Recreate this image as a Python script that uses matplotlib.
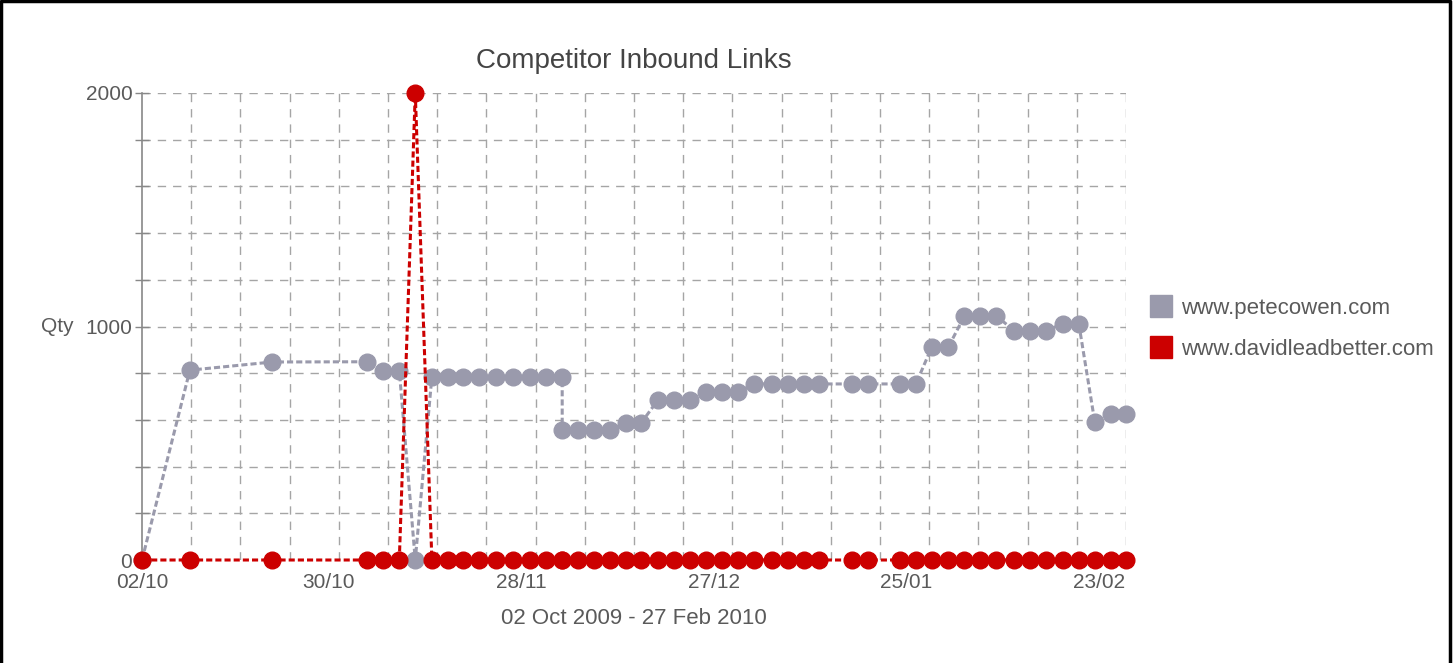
import numpy as np
import matplotlib
matplotlib.use("Agg")
import matplotlib.pyplot as plt
from matplotlib.lines import Line2D

plt.rcParams["font.family"] = ["Liberation Sans", "DejaVu Sans"]

# days since 02 Oct 2009
days = [0.0, 7.2, 19.6, 33.8, 36.2, 38.7, 41.1,
        43.6, 46.0, 48.3, 50.7, 53.2, 55.8, 58.4, 60.8, 63.2,
        63.2, 65.6, 68.0, 70.4, 72.8, 75.1,
        77.6, 80.0, 82.4, 84.8, 87.3, 89.6,
        92.1, 94.8, 97.2, 99.6, 101.9, 106.8, 109.2, 114.0, 116.4,
        118.8, 121.3, 123.7, 126.1, 128.5, 131.2, 133.6, 136.0,
        138.5, 140.9, 143.3, 145.7, 148.0]

petecowen = [0, 813, 848, 849, 811, 811, 0,
             785, 785, 785, 785, 785, 785, 785, 785, 785,
             557, 557, 557, 557, 588, 588,
             685, 685, 685, 720, 720, 720,
             754, 754, 754, 754, 754, 754, 754, 754, 754,
             913, 913, 1045, 1045, 1045, 982, 982, 982,
             1012, 1012, 592, 624, 624]

davidleadbetter = [0, 0, 0, 0, 0, 0, 2000,
                   0, 0, 0, 0, 0, 0, 0, 0, 0,
                   0, 0, 0, 0, 0, 0,
                   0, 0, 0, 0, 0, 0,
                   0, 0, 0, 0, 0, 0, 0, 0, 0,
                   0, 0, 0, 0, 0, 0, 0, 0,
                   0, 0, 0, 0, 0]

tick_days = [0, 28, 57, 86, 115, 144]
tick_labels = ["02/10", "30/10", "28/11", "27/12", "25/01", "23/02"]
series_names = ["www.petecowen.com", "www.davidleadbetter.com"]

GRAY = "#9a9aac"
RED = "#cc0000"
TEXT = "#5a5a5a"

fig = plt.figure(figsize=(14.55, 6.63), dpi=100)
ax = fig.add_axes([142 / 1455, 1 - 560 / 663, (1126 - 142) / 1455, (560 - 93) / 663])

# grid (dashed), vertical lines every 1/20 of the range
for gx in np.linspace(0, 148, 21)[1:]:
    ax.axvline(gx, color="#a5a5a5", lw=1.0, ls=(0, (6, 5)), zorder=0)
for gy in np.arange(200, 2001, 200):
    ax.axhline(gy, color="#a5a5a5", lw=1.0, ls=(0, (6, 5)), zorder=0)

ax.plot(days, petecowen, color=GRAY, lw=2.2, ls=(0, (2, 1)), marker="o",
        ms=12, mec=GRAY, mfc=GRAY, clip_on=False, zorder=3)
ax.plot(days, davidleadbetter, color=RED, lw=2.2, ls=(0, (2, 1)), marker="o",
        ms=12, mec=RED, mfc=RED, clip_on=False, zorder=4)

ax.set_xlim(0, 148)
ax.set_ylim(0, 2000)

for s in ["top", "right", "bottom"]:
    ax.spines[s].set_visible(False)
ax.spines["left"].set_color("#888888")
ax.spines["left"].set_linewidth(1.2)

ax.set_yticks([0, 1000, 2000])
ax.set_yticks(np.arange(200, 2000, 200), minor=True)
ax.tick_params(axis="y", which="both", direction="inout", length=10, width=1.0,
               color="#888888", labelcolor=TEXT, labelsize=15, pad=2)
ax.set_xticks(tick_days)
ax.set_xticklabels(tick_labels)
ax.tick_params(axis="x", length=0, labelcolor=TEXT, labelsize=15, pad=9)

ax.set_title("Competitor Inbound Links", fontsize=20, color="#444444", pad=18)
ax.set_xlabel("02 Oct 2009 - 27 Feb 2010", fontsize=16, color=TEXT, labelpad=12)
fig.text(57 / 1455, 1 - 326 / 663, "Qty", fontsize=15, color=TEXT,
         ha="center", va="center")

handles = [Line2D([], [], ls="none", marker="s", ms=16, mfc=GRAY, mec=GRAY),
           Line2D([], [], ls="none", marker="s", ms=16, mfc=RED, mec=RED)]
fig.legend(handles, series_names, loc="center left",
           bbox_to_anchor=(1128 / 1455, 1 - 329 / 663), frameon=False,
           fontsize=16, labelcolor=TEXT, handletextpad=0.3, labelspacing=0.9,
           handlelength=1.2)

# black frame on left, top and right
fig.add_artist(Line2D([0.001, 0.001, 0.9965, 0.9965], [0, 0.998, 0.998, 0],
                      transform=fig.transFigure, color="black", lw=2.5))

fig.savefig("out.png", dpi=100)
